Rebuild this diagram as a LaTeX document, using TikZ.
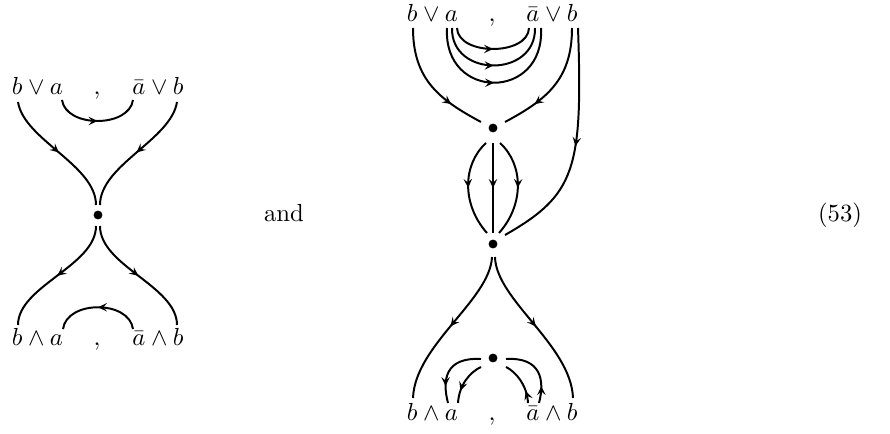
\documentclass[tikz,border=0pt]{standalone}
\usetikzlibrary{arrows.meta,decorations.markings}

\tikzset{
  strand/.style={line width=0.8pt},
  dot/.style={circle,fill,inner sep=0pt,minimum size=3.6pt},
  lbl/.style={anchor=base,inner sep=0pt},
  arr/.style={postaction={decorate},decoration={markings,
    mark=at position #1 with {\arrow{Stealth[length=3.6pt,width=3.4pt,inset=1.4pt]}}}},
  arr/.default=0.5
}

\begin{document}
\begin{tikzpicture}[x=0.405pt,y=-0.405pt]
\useasboundingbox (0,0) rectangle (890,434);
% left picture
\begin{scope}[shift={(98,0)}]
\node[dot] (d) at (0,215) {};
\node[lbl] (tl) at (-60.5,95) {$b\vee a$};
\node[lbl] (tc) at (-1,95) {$,$};
\node[lbl] (tr) at (60,95) {$\bar a\vee b$};
\node[lbl] (bl) at (-60.5,346) {$b\wedge a$};
\node[lbl] (bc) at (-1,346) {$,$};
\node[lbl] (br) at (60,346) {$\bar a\wedge b$};
\coordinate (tl-b) at (-80,102);
\coordinate (tl-a) at (-36,100);
\coordinate (tr-a) at (35,100);
\coordinate (tr-b) at (79,102);
\coordinate (bl-b) at (-80,325);
\coordinate (bl-a) at (-35,329);
\coordinate (br-a) at (35,329);
\coordinate (br-b) at (79,325);
\coordinate (d-nw) at (-2,205);
\coordinate (d-ne) at (2,205);
\coordinate (d-sw) at (-2,226);
\coordinate (d-se) at (2,226);
\draw[strand,arr] (tl-b) .. controls (-74,140) and (-2,165) .. (d-nw);
\draw[strand,arr] (tr-b) .. controls (73,140) and (2,165) .. (d-ne);
\draw[strand,arr] (tl-a) .. controls (-32,128) and (31,128) .. (tr-a);
\draw[strand,arr] (d-sw) .. controls (-2,266) and (-80,286) .. (bl-b);
\draw[strand,arr] (d-se) .. controls (2,266) and (79,286) .. (br-b);
\draw[strand,arr] (br-a) .. controls (31,300) and (-31,300) .. (bl-a);
\end{scope}
\node[anchor=base,inner sep=0pt] (and) at (284,222) {and};
% right picture
\begin{scope}[shift={(493,0)}]
\node[dot] (e1) at (0,128) {};
\node[dot] (e2) at (0,244) {};
\node[dot] (e3) at (0,358) {};
\node[lbl] (ttl) at (-60.5,22) {$b\vee a$};
\node[lbl] (ttc) at (-1,22) {$,$};
\node[lbl] (ttr) at (59,22) {$\bar a\vee b$};
\node[lbl] (bbl) at (-60.5,420) {$b\wedge a$};
\node[lbl] (bbc) at (-1,420) {$,$};
\node[lbl] (bbr) at (59,420) {$\bar a\wedge b$};
% ends under the letters
\coordinate (ttl-b) at (-80,28);
\coordinate (ttl-a1) at (-46,28);
\coordinate (ttl-a2) at (-41,28);
\coordinate (ttl-a3) at (-36,28);
\coordinate (ttr-a3) at (36,28);
\coordinate (ttr-a2) at (42,28);
\coordinate (ttr-a1) at (48,28);
\coordinate (ttr-b1) at (79,28);
\coordinate (ttr-b2) at (85,28);
\coordinate (bbl-b) at (-80,398);
\coordinate (bbl-a1) at (-45,403);
\coordinate (bbl-a2) at (-35,403);
\coordinate (bbr-a2) at (35,403);
\coordinate (bbr-a1) at (46,403);
\coordinate (bbr-b) at (80,398);
% ends at the dots
\coordinate (e1-nw) at (-12,122);
\coordinate (e1-ne) at (12,122);
\coordinate (e1-sw) at (-7,143);
\coordinate (e1-s) at (0,143);
\coordinate (e1-se) at (7,143);
\coordinate (e2-nw) at (-6,233);
\coordinate (e2-n) at (0,233);
\coordinate (e2-ne) at (6,233);
\coordinate (e2-e) at (12,235);
\coordinate (e2-sw) at (-1,257);
\coordinate (e2-se) at (2,257);
\coordinate (e3-w) at (-12,359);
\coordinate (e3-sw) at (-12,367);
\coordinate (e3-se) at (13,367);
\coordinate (e3-e) at (13,359);
\draw[strand,arr=0.72] (ttl-b) .. controls (-80,80) and (-53,100) .. (e1-nw);
\draw[strand,arr=0.72] (ttr-b1) .. controls (79,80) and (53,100) .. (e1-ne);
\draw[strand,arr] (ttr-b2) .. controls (90,170) and (82,195) .. (e2-e);
\draw[strand,arr] (ttl-a3) .. controls (-35,56) and (35,56) .. (ttr-a3);
\draw[strand,arr] (ttl-a2) .. controls (-42,78) and (43,78) .. (ttr-a2);
\draw[strand,arr] (ttl-a1) .. controls (-50,101) and (52,101) .. (ttr-a1);
\draw[strand,arr] (e1-sw) .. controls (-31,165) and (-31,205) .. (e2-nw);
\draw[strand,arr] (e1-s) -- (e2-n);
\draw[strand,arr] (e1-se) .. controls (31,165) and (31,205) .. (e2-ne);
\draw[strand,arr] (e2-sw) .. controls (-3,300) and (-78,345) .. (bbl-b);
\draw[strand,arr] (e2-se) .. controls (3,300) and (78,345) .. (bbr-b);
\draw[strand,arr=0.75] (e3-w) .. controls (-48,357) and (-51,380) .. (bbl-a1);
\draw[strand,arr=0.72] (e3-sw) .. controls (-23,372) and (-34,385) .. (bbl-a2);
\draw[strand,arr=0.25] (bbr-a1) .. controls (52,380) and (48,357) .. (e3-e);
\draw[strand,arr=0.28] (bbr-a2) .. controls (34,385) and (23,372) .. (e3-se);
\end{scope}
\node[anchor=base,inner sep=0pt] (eqno) at (840,222) {(53)};
\end{tikzpicture}
\end{document}
